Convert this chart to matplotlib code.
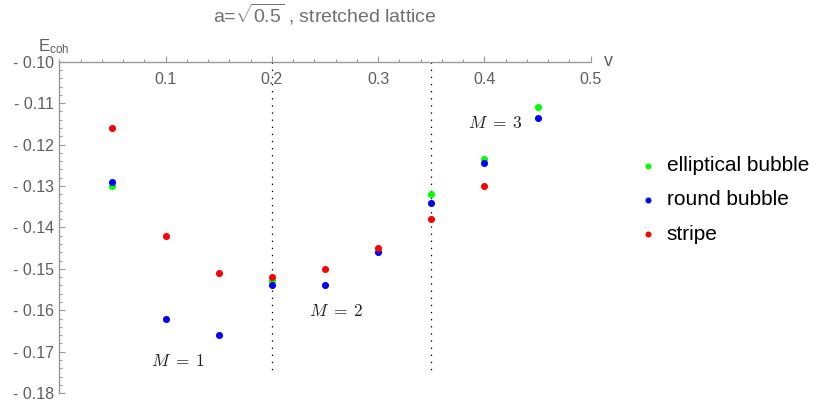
import matplotlib
matplotlib.use("Agg")
import matplotlib.pyplot as plt
from matplotlib.ticker import MultipleLocator, FixedLocator

plt.rcParams['font.family'] = ['Liberation Sans', 'DejaVu Sans']
plt.rcParams['mathtext.fontset'] = 'custom'
plt.rcParams['mathtext.rm'] = 'Liberation Sans'
plt.rcParams['mathtext.it'] = 'Liberation Sans:italic'
plt.rcParams['mathtext.bf'] = 'Liberation Sans:bold'

# data
v_ell = [0.05, 0.2, 0.35, 0.4, 0.45]
e_ell = [-0.130, -0.153, -0.132, -0.1235, -0.111]

v_round = [0.05, 0.1, 0.15, 0.2, 0.25, 0.3, 0.35, 0.4, 0.45]
e_round = [-0.129, -0.162, -0.166, -0.154, -0.154, -0.146, -0.134, -0.1245, -0.1135]

v_stripe = [0.05, 0.1, 0.15, 0.2, 0.25, 0.3, 0.35, 0.4]
e_stripe = [-0.116, -0.142, -0.151, -0.152, -0.150, -0.145, -0.138, -0.130]

boundaries = [0.2, 0.35]
m_labels = [r'$M\;=\;1$', r'$M\;=\;2$', r'$M\;=\;3$']
m_pos = [(0.112, -0.1722), (0.261, -0.1601), (0.410, -0.1149)]

x_ticks = [0.1, 0.2, 0.3, 0.4, 0.5]
y_ticks = [-0.18, -0.17, -0.16, -0.15, -0.14, -0.13, -0.12, -0.11, -0.10]

axis_col = '#9a9a9a'
label_col = '#5e5e5e'

fig = plt.figure(figsize=(8.19, 4.01), dpi=100)
ax = fig.add_axes([0.0724, 0.0195, 0.6488, 0.8266])

ax.scatter(v_ell, e_ell, s=26, color='#00ff00', label='elliptical bubble', zorder=3, linewidths=0)
ax.scatter(v_round, e_round, s=26, color='#0000ff', label='round bubble', zorder=4, linewidths=0)
ax.scatter(v_stripe, e_stripe, s=26, color='#ff0000', label='stripe', zorder=5, linewidths=0)

for b in boundaries:
    ax.plot([b, b], [-0.10, -0.175], color='black', lw=0.9, linestyle=(0, (1.1, 4.6)), zorder=2)

for lab, (x, y) in zip(m_labels, m_pos):
    ax.text(x, y, lab, ha='center', va='center', fontsize=12.5, math_fontfamily='cm', color='#222222')

ax.set_xlim(0, 0.5)
ax.set_ylim(-0.18, -0.10)

for s in ['bottom', 'right']:
    ax.spines[s].set_visible(False)
for s in ['top', 'left']:
    ax.spines[s].set_color(axis_col)
    ax.spines[s].set_linewidth(1.0)

ax.xaxis.set_major_locator(FixedLocator(x_ticks))
ax.xaxis.set_minor_locator(MultipleLocator(0.02))
ax.set_xticklabels([f'{t:.1f}' for t in x_ticks])
ax.tick_params(axis='x', which='both', bottom=False, labelbottom=False, top=True, labeltop=True,
               direction='out', color=axis_col, labelcolor=label_col, labelsize=11.5)
ax.tick_params(axis='x', which='major', length=4.2, width=0.8, pad=-18.5 - 4.2)
ax.tick_params(axis='x', which='minor', length=2.2, width=0.8)

ax.yaxis.set_major_locator(FixedLocator(y_ticks))
ax.yaxis.set_minor_locator(MultipleLocator(0.002))
ax.set_yticklabels([f'- {abs(t):.2f}' for t in y_ticks])
ax.tick_params(axis='y', which='both', direction='in', color=axis_col, labelcolor=label_col,
               labelsize=11.5, pad=4)
ax.tick_params(axis='y', which='major', length=4.2, width=0.8)
ax.tick_params(axis='y', which='minor', length=2.2, width=0.8)

ax.set_title(r'a=$\sqrt{0.5}$ , stretched lattice', y=1.118, pad=0, fontsize=14,
             color='#707070')
ax.text(-0.041, 1.030, r'E$_{\mathrm{coh}}$', transform=ax.transAxes, ha='left', va='baseline',
        fontsize=12, color=label_col)
ax.text(1.033, 1.0, 'v', transform=ax.transAxes, ha='center', va='center', fontsize=13,
        color=label_col)

hl = 0.8
fs = 15
ax.legend(loc='center left', bbox_to_anchor=((648 - hl * fs / 0.72 / 2) / 819, 1 - 200 / 401),
          bbox_transform=fig.transFigure, frameon=False, fontsize=fs, handlelength=hl,
          handletextpad=0.5, labelspacing=0.74, borderpad=0, borderaxespad=0,
          markerscale=0.85, scatterpoints=1)

fig.savefig('out.png', dpi=100)
